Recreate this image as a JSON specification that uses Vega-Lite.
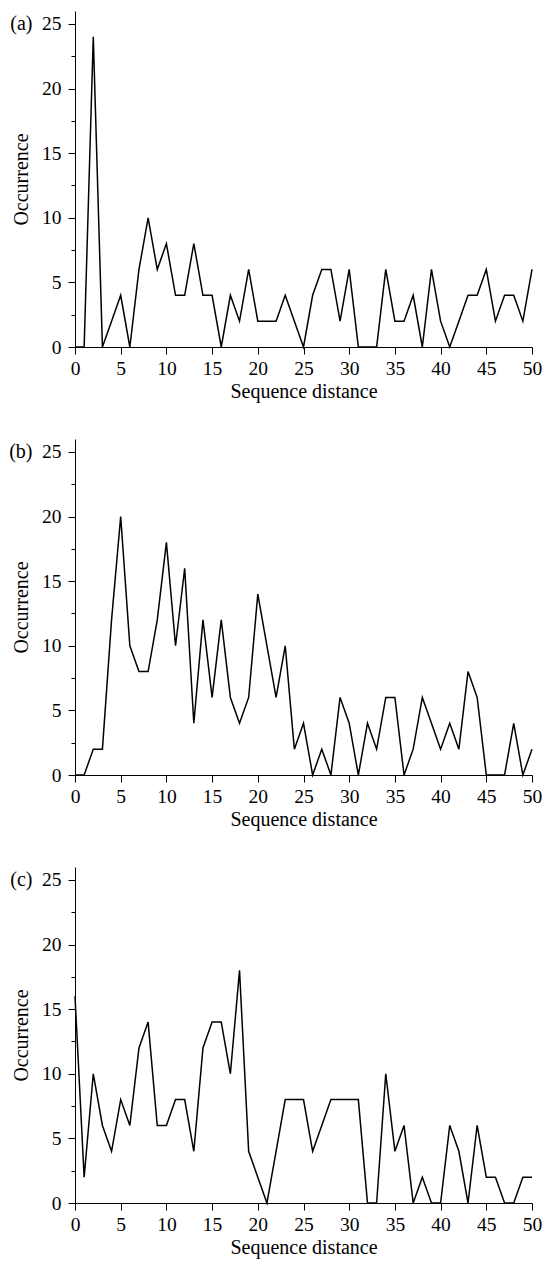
{
  "$schema": "https://vega.github.io/schema/vega-lite/v6.json",
  "padding": {"left": 8, "top": 11, "right": 2, "bottom": 2},
  "background": "white",
  "spacing": 37,
  "config": {
    "view": {"stroke": null},
    "font": "Liberation Serif",
    "axis": {
      "grid": false,
      "domainColor": "black",
      "domainWidth": 1,
      "tickColor": "black",
      "tickWidth": 1,
      "labelFont": "Liberation Serif",
      "labelFontSize": 19.5,
      "labelColor": "black",
      "labelFlush": false,
      "labelOverlap": false,
      "titleFont": "Liberation Serif",
      "titleFontSize": 20,
      "titleFontWeight": "normal",
      "titleColor": "black"
    },
    "axisX": {"labelPadding": 5, "titlePadding": 4},
    "axisY": {"labelPadding": 7, "titlePadding": 10}
  },
  "datasets": {
    "a": [
      {"d": 0, "n": 0}, {"d": 1, "n": 0}, {"d": 2, "n": 24}, {"d": 3, "n": 0}, {"d": 4, "n": 2},
      {"d": 5, "n": 4}, {"d": 6, "n": 0}, {"d": 7, "n": 6}, {"d": 8, "n": 10}, {"d": 9, "n": 6},
      {"d": 10, "n": 8}, {"d": 11, "n": 4}, {"d": 12, "n": 4}, {"d": 13, "n": 8}, {"d": 14, "n": 4},
      {"d": 15, "n": 4}, {"d": 16, "n": 0}, {"d": 17, "n": 4}, {"d": 18, "n": 2}, {"d": 19, "n": 6},
      {"d": 20, "n": 2}, {"d": 21, "n": 2}, {"d": 22, "n": 2}, {"d": 23, "n": 4}, {"d": 24, "n": 2},
      {"d": 25, "n": 0}, {"d": 26, "n": 4}, {"d": 27, "n": 6}, {"d": 28, "n": 6}, {"d": 29, "n": 2},
      {"d": 30, "n": 6}, {"d": 31, "n": 0}, {"d": 32, "n": 0}, {"d": 33, "n": 0}, {"d": 34, "n": 6},
      {"d": 35, "n": 2}, {"d": 36, "n": 2}, {"d": 37, "n": 4}, {"d": 38, "n": 0}, {"d": 39, "n": 6},
      {"d": 40, "n": 2}, {"d": 41, "n": 0}, {"d": 42, "n": 2}, {"d": 43, "n": 4}, {"d": 44, "n": 4},
      {"d": 45, "n": 6}, {"d": 46, "n": 2}, {"d": 47, "n": 4}, {"d": 48, "n": 4}, {"d": 49, "n": 2},
      {"d": 50, "n": 6}
    ],
    "b": [
      {"d": 0, "n": 0}, {"d": 1, "n": 0}, {"d": 2, "n": 2}, {"d": 3, "n": 2}, {"d": 4, "n": 12},
      {"d": 5, "n": 20}, {"d": 6, "n": 10}, {"d": 7, "n": 8}, {"d": 8, "n": 8}, {"d": 9, "n": 12},
      {"d": 10, "n": 18}, {"d": 11, "n": 10}, {"d": 12, "n": 16}, {"d": 13, "n": 4}, {"d": 14, "n": 12},
      {"d": 15, "n": 6}, {"d": 16, "n": 12}, {"d": 17, "n": 6}, {"d": 18, "n": 4}, {"d": 19, "n": 6},
      {"d": 20, "n": 14}, {"d": 21, "n": 10}, {"d": 22, "n": 6}, {"d": 23, "n": 10}, {"d": 24, "n": 2},
      {"d": 25, "n": 4}, {"d": 26, "n": 0}, {"d": 27, "n": 2}, {"d": 28, "n": 0}, {"d": 29, "n": 6},
      {"d": 30, "n": 4}, {"d": 31, "n": 0}, {"d": 32, "n": 4}, {"d": 33, "n": 2}, {"d": 34, "n": 6},
      {"d": 35, "n": 6}, {"d": 36, "n": 0}, {"d": 37, "n": 2}, {"d": 38, "n": 6}, {"d": 39, "n": 4},
      {"d": 40, "n": 2}, {"d": 41, "n": 4}, {"d": 42, "n": 2}, {"d": 43, "n": 8}, {"d": 44, "n": 6},
      {"d": 45, "n": 0}, {"d": 46, "n": 0}, {"d": 47, "n": 0}, {"d": 48, "n": 4}, {"d": 49, "n": 0},
      {"d": 50, "n": 2}
    ],
    "c": [
      {"d": 0, "n": 16}, {"d": 1, "n": 2}, {"d": 2, "n": 10}, {"d": 3, "n": 6}, {"d": 4, "n": 4},
      {"d": 5, "n": 8}, {"d": 6, "n": 6}, {"d": 7, "n": 12}, {"d": 8, "n": 14}, {"d": 9, "n": 6},
      {"d": 10, "n": 6}, {"d": 11, "n": 8}, {"d": 12, "n": 8}, {"d": 13, "n": 4}, {"d": 14, "n": 12},
      {"d": 15, "n": 14}, {"d": 16, "n": 14}, {"d": 17, "n": 10}, {"d": 18, "n": 18}, {"d": 19, "n": 4},
      {"d": 20, "n": 2}, {"d": 21, "n": 0}, {"d": 22, "n": 4}, {"d": 23, "n": 8}, {"d": 24, "n": 8},
      {"d": 25, "n": 8}, {"d": 26, "n": 4}, {"d": 27, "n": 6}, {"d": 28, "n": 8}, {"d": 29, "n": 8},
      {"d": 30, "n": 8}, {"d": 31, "n": 8}, {"d": 32, "n": 0}, {"d": 33, "n": 0}, {"d": 34, "n": 10},
      {"d": 35, "n": 4}, {"d": 36, "n": 6}, {"d": 37, "n": 0}, {"d": 38, "n": 2}, {"d": 39, "n": 0},
      {"d": 40, "n": 0}, {"d": 41, "n": 6}, {"d": 42, "n": 4}, {"d": 43, "n": 0}, {"d": 44, "n": 6},
      {"d": 45, "n": 2}, {"d": 46, "n": 2}, {"d": 47, "n": 0}, {"d": 48, "n": 0}, {"d": 49, "n": 2},
      {"d": 50, "n": 2}
    ]
  },
  "vconcat": [
    {
      "width": 457, "height": 336,
      "data": {"name": "a"},
      "layer": [
        {
          "mark": {"type": "line", "color": "black", "strokeWidth": 1.5},
          "encoding": {
            "x": {"field": "d", "type": "quantitative", "scale": {"domain": [0, 50], "nice": false},
              "axis": {"title": "Sequence distance", "values": [0, 2.5, 5, 7.5, 10, 12.5, 15, 17.5, 20, 22.5, 25, 27.5, 30, 32.5, 35, 37.5, 40, 42.5, 45, 47.5, 50],
                "labelExpr": "datum.value % 5 === 0 ? datum.label : ''",
                "tickSize": {"condition": {"test": "datum.value % 5 === 0", "value": 7}, "value": 4}}},
            "y": {"field": "n", "type": "quantitative", "scale": {"domain": [0, 26], "nice": false},
              "axis": {"title": "Occurrence", "values": [0, 2.5, 5, 7.5, 10, 12.5, 15, 17.5, 20, 22.5, 25],
                "labelExpr": "datum.value % 5 === 0 ? datum.label : ''",
                "tickSize": {"condition": {"test": "datum.value % 5 === 0", "value": 7}, "value": 4}}}
          }
        },
        {
          "mark": {"type": "line", "opacity": 0},
          "encoding": {
            "x": {"field": "d", "type": "quantitative"},
            "y": {"field": "n", "type": "quantitative",
              "axis": {"orient": "left", "values": [25], "labelExpr": "'(a)'", "ticks": false, "tickSize": 0, "domain": false, "title": null, "offset": 43, "labelPadding": 0, "labelFontSize": 20}}
          }
        }
      ],
      "resolve": {"axis": {"y": "independent"}}
    },
    {
      "width": 457, "height": 336,
      "data": {"name": "b"},
      "layer": [
        {
          "mark": {"type": "line", "color": "black", "strokeWidth": 1.5},
          "encoding": {
            "x": {"field": "d", "type": "quantitative", "scale": {"domain": [0, 50], "nice": false},
              "axis": {"title": "Sequence distance", "values": [0, 2.5, 5, 7.5, 10, 12.5, 15, 17.5, 20, 22.5, 25, 27.5, 30, 32.5, 35, 37.5, 40, 42.5, 45, 47.5, 50],
                "labelExpr": "datum.value % 5 === 0 ? datum.label : ''",
                "tickSize": {"condition": {"test": "datum.value % 5 === 0", "value": 7}, "value": 4}}},
            "y": {"field": "n", "type": "quantitative", "scale": {"domain": [0, 26], "nice": false},
              "axis": {"title": "Occurrence", "values": [0, 2.5, 5, 7.5, 10, 12.5, 15, 17.5, 20, 22.5, 25],
                "labelExpr": "datum.value % 5 === 0 ? datum.label : ''",
                "tickSize": {"condition": {"test": "datum.value % 5 === 0", "value": 7}, "value": 4}}}
          }
        },
        {
          "mark": {"type": "line", "opacity": 0},
          "encoding": {
            "x": {"field": "d", "type": "quantitative"},
            "y": {"field": "n", "type": "quantitative",
              "axis": {"orient": "left", "values": [25], "labelExpr": "'(b)'", "ticks": false, "tickSize": 0, "domain": false, "title": null, "offset": 43, "labelPadding": 0, "labelFontSize": 20}}
          }
        }
      ],
      "resolve": {"axis": {"y": "independent"}}
    },
    {
      "width": 457, "height": 336,
      "data": {"name": "c"},
      "layer": [
        {
          "mark": {"type": "line", "color": "black", "strokeWidth": 1.5},
          "encoding": {
            "x": {"field": "d", "type": "quantitative", "scale": {"domain": [0, 50], "nice": false},
              "axis": {"title": "Sequence distance", "values": [0, 2.5, 5, 7.5, 10, 12.5, 15, 17.5, 20, 22.5, 25, 27.5, 30, 32.5, 35, 37.5, 40, 42.5, 45, 47.5, 50],
                "labelExpr": "datum.value % 5 === 0 ? datum.label : ''",
                "tickSize": {"condition": {"test": "datum.value % 5 === 0", "value": 7}, "value": 4}}},
            "y": {"field": "n", "type": "quantitative", "scale": {"domain": [0, 26], "nice": false},
              "axis": {"title": "Occurrence", "values": [0, 2.5, 5, 7.5, 10, 12.5, 15, 17.5, 20, 22.5, 25],
                "labelExpr": "datum.value % 5 === 0 ? datum.label : ''",
                "tickSize": {"condition": {"test": "datum.value % 5 === 0", "value": 7}, "value": 4}}}
          }
        },
        {
          "mark": {"type": "line", "opacity": 0},
          "encoding": {
            "x": {"field": "d", "type": "quantitative"},
            "y": {"field": "n", "type": "quantitative",
              "axis": {"orient": "left", "values": [25], "labelExpr": "'(c)'", "ticks": false, "tickSize": 0, "domain": false, "title": null, "offset": 43, "labelPadding": 0, "labelFontSize": 20}}
          }
        }
      ],
      "resolve": {"axis": {"y": "independent"}}
    }
  ]
}
